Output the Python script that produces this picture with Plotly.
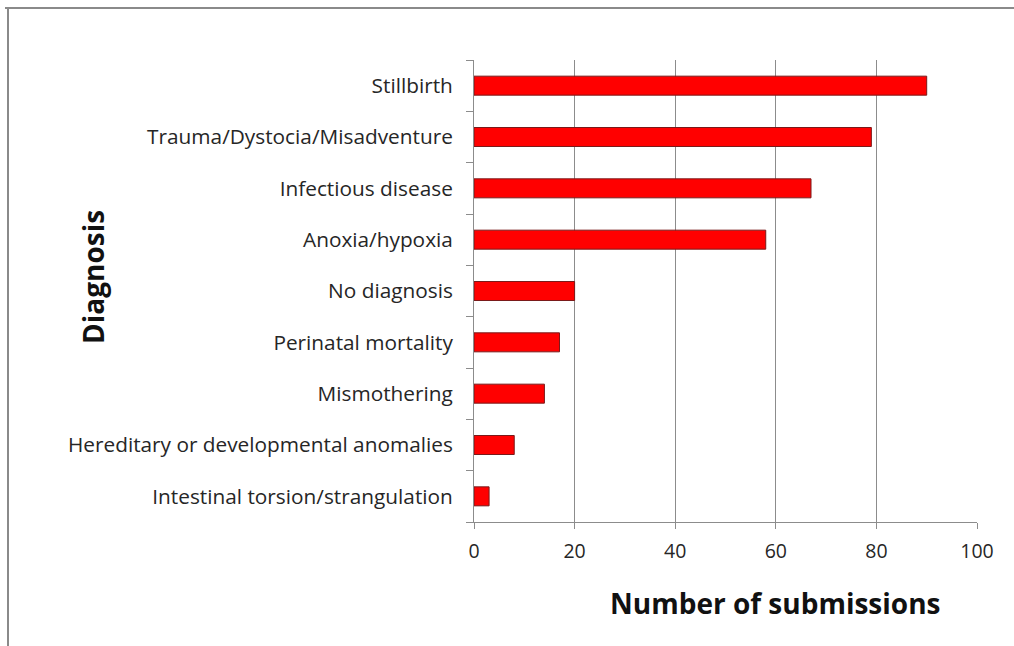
import plotly.graph_objects as go

# Diagnoses, listed bottom to top
diagnoses = [
    "Intestinal torsion/strangulation",
    "Hereditary or developmental anomalies",
    "Mismothering",
    "Perinatal mortality",
    "No diagnosis",
    "Anoxia/hypoxia",
    "Infectious disease",
    "Trauma/Dystocia/Misadventure",
    "Stillbirth",
]
submissions = [3, 8, 14, 17, 20, 58, 67, 79, 90]
x_ticks = [0, 20, 40, 60, 80, 100]

FONT = "Open Sans"
GRID = "#8c8c8c"

W, H = 1014, 646
L, R, T, B = 474, 37, 60, 124
pw, ph = W - L - R, H - T - B

fig = go.Figure()
fig.add_trace(go.Bar(
    y=diagnoses,
    x=submissions,
    orientation="h",
    marker=dict(color="#ff0000", line=dict(color="#7a1a1a", width=1)),
    width=0.37,
    showlegend=False,
    hoverinfo="x+y",
))

# Invisible trace on a numeric overlay axis so category boundary ticks can be drawn
fig.add_trace(go.Scatter(
    x=[0], y=[0], yaxis="y2", mode="markers",
    marker=dict(opacity=0), showlegend=False, hoverinfo="skip",
))

fig.update_layout(
    width=W, height=H,
    margin=dict(l=L, r=R, t=T, b=B),
    paper_bgcolor="white",
    plot_bgcolor="white",
    xaxis=dict(
        range=[0, 100],
        tickvals=x_ticks,
        ticktext=[str(v) for v in x_ticks],
        showgrid=True, gridcolor=GRID, gridwidth=1,
        showline=True, linecolor=GRID, linewidth=1,
        ticks="outside", ticklen=6, tickcolor=GRID,
        ticklabelstandoff=6,
        tickfont=dict(family=FONT, size=19.5, color="#262626"),
        zeroline=False,
        fixedrange=True,
    ),
    yaxis=dict(
        type="category",
        categoryorder="array", categoryarray=diagnoses,
        range=[-0.5, len(diagnoses) - 0.5],
        showline=True, linecolor=GRID, linewidth=1,
        ticks="", showgrid=False,
        ticklabelstandoff=16,
        tickfont=dict(family=FONT, size=20.8, color="#262626"),
        fixedrange=True,
    ),
    yaxis2=dict(
        overlaying="y", side="left",
        range=[-0.5, len(diagnoses) - 0.5],
        tickvals=[i - 0.5 for i in range(len(diagnoses) + 1)],
        showticklabels=False,
        ticks="outside", ticklen=7, tickcolor=GRID,
        showgrid=False, zeroline=False, showline=False,
        fixedrange=True,
    ),
    annotations=[
        dict(text="<b>Number of submissions</b>", xref="paper", yref="paper",
             x=(775 - L) / pw, y=-(603 - (T + ph)) / ph,
             xanchor="center", yanchor="middle", showarrow=False,
             font=dict(family="Open Sans", size=28, color="#111111")),
        dict(text="<b>Diagnosis</b>", xref="paper", yref="paper",
             x=(93 - L) / pw, y=((T + ph) - 277) / ph, textangle=-90,
             xanchor="center", yanchor="middle", showarrow=False,
             font=dict(family="Open Sans", size=28, color="#111111")),
    ],
    shapes=[
        # frame around the figure (top and left edges)
        dict(type="line", xref="paper", yref="paper",
             x0=(5 - L) / pw, x1=(W + 5 - L) / pw,
             y0=((T + ph) - 8) / ph, y1=((T + ph) - 8) / ph,
             line=dict(color="#8a8a8a", width=2)),
        dict(type="line", xref="paper", yref="paper",
             x0=(8 - L) / pw, x1=(8 - L) / pw,
             y0=((T + ph) - 8) / ph, y1=((T + ph) - H - 5) / ph,
             line=dict(color="#8a8a8a", width=2)),
    ],
)

fig.write_html("out.html")
